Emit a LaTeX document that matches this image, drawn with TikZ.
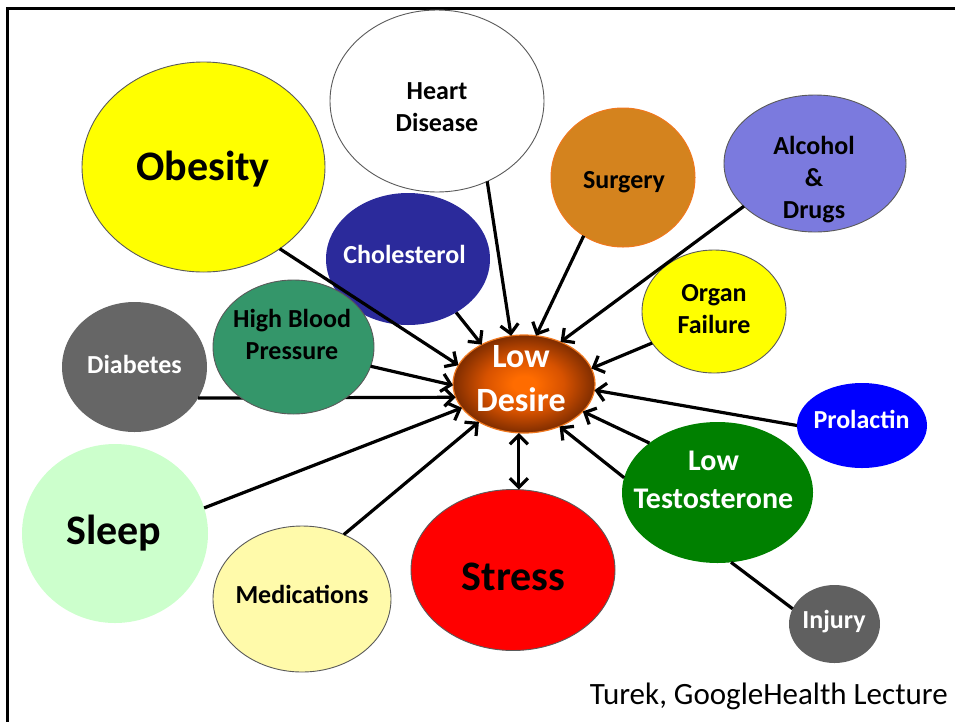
\documentclass[tikz,border=0pt]{standalone}
\usepackage{fontspec}
\setmainfont{Carlito}
\usetikzlibrary{arrows.meta,shapes.geometric}
\definecolor{edgegray}{RGB}{90,90,90}
\definecolor{obesityc}{RGB}{255,255,0}
\definecolor{cholc}{RGB}{43,42,155}
\definecolor{surgc}{RGB}{212,131,30}
\definecolor{surgedge}{RGB}{240,120,30}
\definecolor{alcc}{RGB}{123,122,222}
\definecolor{diabc}{RGB}{102,102,102}
\definecolor{hbpc}{RGB}{52,150,106}
\definecolor{prolc}{RGB}{0,0,255}
\definecolor{lowtc}{RGB}{0,128,0}
\definecolor{injc}{RGB}{96,96,96}
\definecolor{stressc}{RGB}{255,0,0}
\definecolor{medc}{RGB}{255,250,170}
\definecolor{sleepc}{RGB}{204,255,204}
\definecolor{ldcore}{RGB}{255,108,0}
\definecolor{ldinner}{RGB}{215,82,0}
\definecolor{ldmid}{RGB}{135,48,0}
\definecolor{ldedge}{RGB}{78,27,0}
\definecolor{ldborder}{RGB}{240,120,30}
\pgfdeclareradialshading{desireshade}{\pgfpoint{0bp}{0bp}}{color(0bp)=(ldcore); color(4bp)=(ldcore); color(14bp)=(ldinner); color(24bp)=(ldmid); color(31bp)=(ldedge); color(50bp)=(ldedge)}
\tikzset{
  blob/.style={ellipse, inner sep=0pt, outer sep=0pt},
  rim/.style={draw=edgegray, line width=0.9pt},
  lbl/.style={anchor=base, inner sep=0pt, font=\bfseries\fontsize{26}{32}\selectfont},
  biglbl/.style={anchor=base, inner sep=0pt, font=\bfseries\fontsize{42}{50}\selectfont},
  conn/.style={line width=3.2pt, -{Straight Barb[length=9pt,width=18pt]}},
  dconn/.style={line width=3.2pt, {Straight Barb[length=9pt,width=18pt]}-{Straight Barb[length=9pt,width=18pt]}},
  plainconn/.style={line width=3.2pt}
}
\begin{document}
\begin{tikzpicture}[x=1pt,y=-1pt]
\useasboundingbox (0,0) rectangle (955,721);
% frame
\draw[line width=3pt, line join=miter] (7,730) -- (7,8) -- (965,8);

% centre node
\node[blob, shading=desireshade, draw=ldborder, line width=1.2pt, minimum width=142pt, minimum height=98pt] (desire) at (524,384) {};

% outer nodes
\node[blob, rim, fill=obesityc, minimum width=243pt, minimum height=210pt] (obesity) at (203.5,167) {};
\node[blob, rim, fill=white, minimum width=214pt, minimum height=182pt] (heart) at (437,101) {};
\node[blob, fill=cholc, minimum width=164pt, minimum height=132pt] (chol) at (408,259) {};
\node[blob, draw=surgedge, line width=1pt, fill=surgc, minimum width=144pt, minimum height=139pt] (surg) at (623,177.5) {};
\node[blob, rim, fill=alcc, minimum width=182pt, minimum height=137pt] (alc) at (815,163.5) {};
\node[blob, rim, fill=obesityc, minimum width=144pt, minimum height=123pt] (organ) at (714,311.5) {};
\node[blob, fill=diabc, minimum width=145pt, minimum height=130pt] (diab) at (134.5,367) {};
\node[blob, fill=prolc, minimum width=130pt, minimum height=85pt] (prol) at (862,425.5) {};
\node[blob, fill=lowtc, minimum width=191pt, minimum height=141pt] (lowt) at (717.5,492.5) {};
\node[blob, fill=injc, minimum width=91pt, minimum height=78pt] (inj) at (834.5,624) {};
\node[blob, rim, fill=stressc, minimum width=204pt, minimum height=161pt] (stress) at (513,570) {};
\node[blob, rim, fill=medc, minimum width=178pt, minimum height=146pt] (med) at (302,599) {};
\node[blob, fill=sleepc, minimum width=186pt, minimum height=179pt] (sleep) at (115,533.5) {};

% diabetes connector passes under the blood pressure node
\draw[conn] (diab.-26) -- (desire.191);
\node[blob, rim, fill=hbpc, minimum width=161pt, minimum height=134pt] (hbp) at (293.5,347) {};

% connectors
\draw[conn] (obesity.-47.3) -- (desire.164);
\draw[conn] (chol.-48.4) -- (desire.137);
\draw[conn] (heart.-58.7) -- (desire.105);
\draw[conn] (surg.-124.8) -- (desire.76);
\draw[conn] (alc.-149.7) -- (desire.49);
\draw[conn] (organ.-153.8) -- (desire.13.5);
\draw[conn] (prol.180) -- (desire.-5);
\draw[conn] (lowt.144.9) -- (desire.-25);
\draw[conn] (lowt.171.3) -- (desire.-50);
\draw[dconn] (desire.-96) -- (desire.-96 |- stress.north);
\draw[conn] (med.57.4) -- (desire.220);
\draw[conn] (sleep.16.4) -- (desire.201);
\draw[conn] (hbp.-14.3) -- (desire.181);
\draw[plainconn] (lowt.-79.9) -- (inj.160.2);

% labels
\node[biglbl] (obesity-t) at (203,180.5) {Obesity};
\node[lbl] (heart-t1) at (437,99.4) {Heart};
\node[lbl] (heart-t2) at (437,131.4) {Disease};
\node[lbl, text=white] (chol-t) at (404.5,263.4) {Cholesterol};
\node[lbl] (surg-t) at (624,188.4) {Surgery};
\node[lbl] (alc-t1) at (814,154.4) {Alcohol};
\node[lbl] (alc-t2) at (814,186.4) {\&};
\node[lbl] (alc-t3) at (814,218.4) {Drugs};
\node[lbl] (organ-t1) at (714,301.4) {Organ};
\node[lbl] (organ-t2) at (714,333.4) {Failure};
\node[lbl, text=white] (diab-t) at (134.5,373.4) {Diabetes};
\node[lbl] (hbp-t1) at (292,327.4) {High Blood};
\node[lbl] (hbp-t2) at (292,359.4) {Pressure};
\node[lbl, text=white, font=\bfseries\fontsize{34}{40}\selectfont] (desire-t1) at (521,367) {Low};
\node[lbl, text=white, font=\bfseries\fontsize{34}{40}\selectfont] (desire-t2) at (521,411) {Desire};
\node[lbl, text=white] (prol-t) at (861.5,428.4) {Prolactin};
\node[lbl, text=white, font=\bfseries\fontsize{30}{36}\selectfont] (lowt-t1) at (713.5,470) {Low};
\node[lbl, text=white, font=\bfseries\fontsize{30}{36}\selectfont] (lowt-t2) at (713.5,508) {Testosterone};
\node[lbl, text=white] (inj-t) at (834,628.4) {Injury};
\node[biglbl] (stress-t) at (513.5,590.5) {Stress};
\node[lbl] (med-t) at (302,603.4) {Medications};
\node[biglbl] (sleep-t) at (114,544.5) {Sleep};
\node[anchor=base east, inner sep=0pt, font=\fontsize{31}{36}\selectfont] (cite) at (948,704) {Turek, GoogleHealth Lecture};
\end{tikzpicture}
\end{document}
